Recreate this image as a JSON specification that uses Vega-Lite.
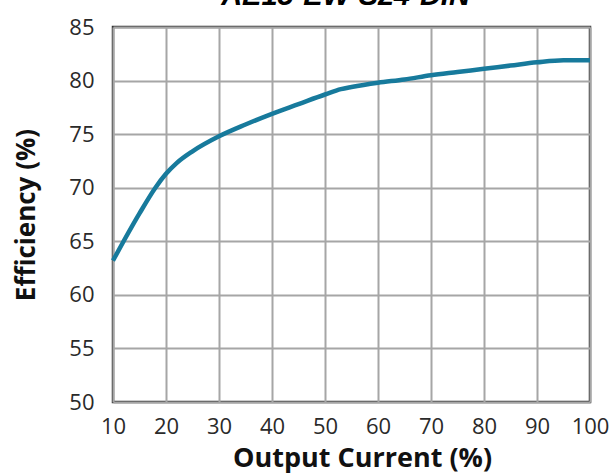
{
  "$schema": "https://vega.github.io/schema/vega-lite/v6.json",
  "autosize": {"type": "none"},
  "padding": {"left": 113, "top": 27, "right": 23, "bottom": 74},
  "width": 477,
  "height": 375,
  "title": {
    "text": "AE15-EW-S24-DIN",
    "font": "Liberation Sans",
    "fontSize": 29,
    "fontWeight": "bold",
    "fontStyle": "italic",
    "color": "#000000",
    "anchor": "middle",
    "baseline": "alphabetic",
    "dx": -6,
    "offset": -18
  },
  "config": {
    "view": {"stroke": "#333333", "strokeWidth": 2.5},
    "axis": {
      "domain": false,
      "ticks": false,
      "tickSize": 0,
      "grid": true,
      "gridColor": "#a6a6a6",
      "gridWidth": 2,
      "gridOpacity": 1,
      "labelFont": "Open Sans",
      "labelFontSize": 22,
      "labelColor": "#2a2a2a",
      "labelFlush": false,
      "titleFont": "Open Sans",
      "titleFontWeight": "bold",
      "titleColor": "#111111"
    }
  },
  "data": {
    "values": [
      {"current": 10, "efficiency": 63.2},
      {"current": 12, "efficiency": 65.0},
      {"current": 15, "efficiency": 67.6},
      {"current": 18, "efficiency": 70.0},
      {"current": 20, "efficiency": 71.3},
      {"current": 22, "efficiency": 72.3},
      {"current": 25, "efficiency": 73.4},
      {"current": 30, "efficiency": 74.8},
      {"current": 35, "efficiency": 75.9},
      {"current": 40, "efficiency": 76.9},
      {"current": 45, "efficiency": 77.8},
      {"current": 50, "efficiency": 78.7},
      {"current": 53, "efficiency": 79.2},
      {"current": 55, "efficiency": 79.4},
      {"current": 60, "efficiency": 79.8},
      {"current": 65, "efficiency": 80.1},
      {"current": 70, "efficiency": 80.5},
      {"current": 75, "efficiency": 80.8},
      {"current": 80, "efficiency": 81.1},
      {"current": 85, "efficiency": 81.4},
      {"current": 90, "efficiency": 81.7},
      {"current": 95, "efficiency": 81.9},
      {"current": 100, "efficiency": 81.9}
    ]
  },
  "mark": {"type": "line", "color": "#177a9c", "strokeWidth": 4.5, "interpolate": "monotone", "strokeCap": "butt"},
  "encoding": {
    "x": {
      "field": "current",
      "type": "quantitative",
      "title": "Output Current (%)",
      "scale": {"domain": [10, 100], "nice": false},
      "axis": {
        "values": [10, 20, 30, 40, 50, 60, 70, 80, 90, 100],
        "labelPadding": 14,
        "labelDx": 4,
        "titleFontSize": 27,
        "titlePadding": 8,
        "titleX": 249
      }
    },
    "y": {
      "field": "efficiency",
      "type": "quantitative",
      "title": "Efficiency (%)",
      "scale": {"domain": [50, 85], "nice": false, "zero": false},
      "axis": {
        "values": [50, 55, 60, 65, 70, 75, 80, 85],
        "labelPadding": 19,
        "titleFontSize": 26,
        "titlePadding": 29
      }
    }
  }
}
